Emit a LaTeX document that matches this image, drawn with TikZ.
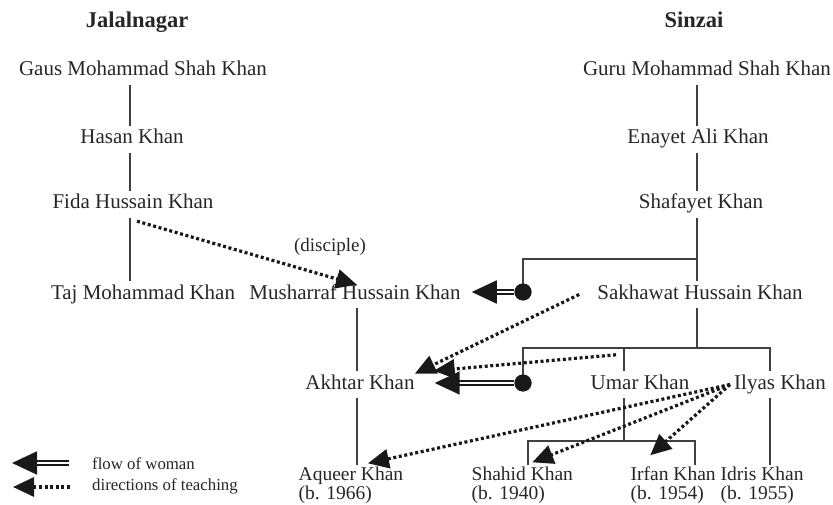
\documentclass[tikz,border=0pt]{standalone}
\usepackage{fontspec}
\setmainfont{Liberation Serif}
\usetikzlibrary{arrows.meta,calc}

\tikzset{
  person/.style={text height=14pt,text depth=5pt,inner sep=4pt,text=black!85,font=\fontsize{21}{25}\selectfont},
  child/.style={person,text height=13pt,text depth=1pt,inner sep=1.5pt,font=\fontsize{19.5}{23}\selectfont},
  place/.style={person,font=\fontsize{22.5}{26}\selectfont\bfseries},
  note/.style={inner sep=1pt,text=black!85,font=\fontsize{16.8}{20}\selectfont},
  kin/.style={draw=black!75,line width=1.3pt},
  teach/.style={draw=black!90,line width=3.2pt,dash pattern=on 3pt off 2.6pt,-{Triangle[length=21pt,width=19pt]}},
  woman/.style={draw=black!90,line width=1.8pt,double,double distance=2pt,-{Triangle[length=25pt,width=23pt]}},
  joint/.style={circle,fill=black!90,inner sep=0pt,minimum size=17pt}
}

\begin{document}
\begin{tikzpicture}[x=1pt,y=-1pt]
\useasboundingbox (0,0) rectangle (833,505);

\coordinate (jx) at (130,0);
\coordinate (mx) at (357,0);
\coordinate (sx) at (697,0);
\coordinate (ux) at (624,0);
\coordinate (ix) at (770,0);
\coordinate (hx) at (528,0);
\coordinate (fx) at (695,0);

\node[place,anchor=base] (jal) at (137,28) {Jalalnagar};
\node[place,anchor=base] (sin) at (694,28) {Sinzai};

\node[person,anchor=base] (gaus) at (143,76) {Gaus Mohammad Shah Khan};
\node[person,anchor=base] (hasan) at (132,144) {Hasan Khan};
\node[person,anchor=base] (fida) at (133,209) {Fida Hussain Khan};
\node[person,anchor=base] (taj) at (143,299) {Taj Mohammad Khan};
\node[person,anchor=base] (mush) at (355,299) {Musharraf Hussain Khan};
\node[person,anchor=base] (akhtar) at (360,389) {Akhtar Khan};

\node[person,anchor=base] (guru) at (707,76) {Guru Mohammad Shah Khan};
\node[person,anchor=base] (enayet) at (698,144) {Enayet Ali Khan};
\node[person,anchor=base] (shaf) at (701,209) {Shafayet Khan};
\node[person,anchor=base] (sakh) at (700,299) {Sakhawat Hussain Khan};
\node[person,anchor=base] (umar) at (640,389) {Umar Khan};
\node[person,anchor=base] (ilyas) at (780,389) {Ilyas Khan};

\node[child,anchor=base west] (aqueer) at (297,480) {Aqueer Khan};
\node[child,anchor=base west] (shahid) at (470,480) {Shahid Khan};
\node[child,anchor=base west] (irfan) at (629,480) {Irfan Khan};
\node[child,anchor=base west] (idris) at (719,480) {Idris Khan};
\node[child,anchor=base west] (aqueerb) at ([yshift=-19pt]aqueer.base west) {(b. 1966)};
\node[child,anchor=base west] (shahidb) at ([yshift=-19pt]shahid.base west) {(b. 1940)};
\node[child,anchor=base west] (irfanb) at ([yshift=-19pt]irfan.base west) {(b. 1954)};
\node[child,anchor=base west] (idrisb) at ([yshift=-19pt]idris.base west) {(b. 1955)};

\node[person,anchor=base,font=\fontsize{19}{23}\selectfont] (disc) at (330,252) {(disciple)};

\draw[kin] (gaus.south -| jx) -- (hasan.north -| jx);
\draw[kin] (hasan.south -| jx) -- (fida.north -| jx);
\draw[kin] (fida.south -| jx) -- (taj.north -| jx);
\draw[kin] (mush.south -| mx) -- (akhtar.north -| mx);
\draw[kin] (akhtar.south -| mx) -- (aqueer.north -| mx);

\draw[kin] (guru.south -| sx) -- (enayet.north -| sx);
\draw[kin] (enayet.south -| sx) -- (shaf.north -| sx);
\draw[kin] (shaf.south -| sx) -- (sakh.north -| sx);
\coordinate (b1) at (697,259);
\coordinate (b2) at (697,348);
\coordinate (b3) at (624,441);
\node[joint] (d1) at (523,292) {};
\node[joint] (d2) at (523,383) {};
\draw[kin] (b1) -| (d1.center);
\draw[kin] (sakh.south -| sx) -- (b2);
\draw[kin] (d2.center) |- (b2) -| (ilyas.north -| ix);
\draw[kin] (b2 -| ux) -- (umar.north -| ux);
\draw[kin] (umar.south -| ux) -- (b3);
\draw[kin] (shahid.north -| hx) |- (b3) -| (irfan.north -| fx);
\draw[kin] (ilyas.south -| ix) -- (idris.north -| ix);

\draw[woman] (d1) -- ([xshift=7pt]mush.east |- d1);
\draw[woman] (d2) -- ([xshift=16pt]akhtar.east |- d2);
\node[joint] at (d1) {};
\node[joint] at (d2) {};

\draw[teach] ([xshift=4pt,yshift=-3pt]fida.south) -- ([xshift=2pt,yshift=-4pt]mush.north);
\draw[teach] ([xshift=-14pt]sakh.west) -- ([xshift=-4pt,yshift=-3pt]akhtar.north east);
\draw[teach] ($(umar.north)+(-24,-16)$) -- ($(akhtar.north east)+(15,0)$);
\draw[teach] (ilyas.west) -- ($(aqueer.north)+(17,-2)$);
\draw[teach] (ilyas.west) -- ($(shahid.north)+(10,-3)$);
\draw[teach] (ilyas.west) -- ($(irfan.north)+(-23,-10)$);

\coordinate (lw1) at (69,463);
\coordinate (lw2) at (12,463);
\coordinate (lt1) at (70,487);
\coordinate (lt2) at (13,487);
\draw[woman] (lw1) -- (lw2);
\draw[teach] (lt1) -- (lt2);
\node[note,anchor=base west] (lgw) at (91,469) {flow of woman};
\node[note,anchor=base west] (lgt) at (91,490) {directions of teaching};

\end{tikzpicture}
\end{document}
